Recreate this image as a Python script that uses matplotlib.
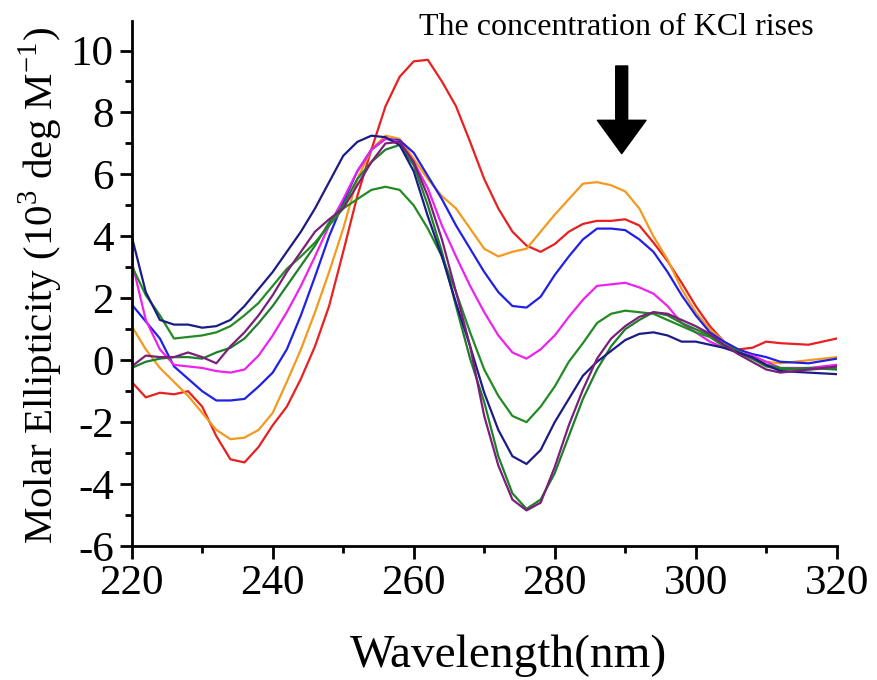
import numpy as np
import matplotlib
matplotlib.use("Agg")
import matplotlib.pyplot as plt
from matplotlib.ticker import MultipleLocator

plt.rcParams['font.family'] = ['Liberation Serif', 'DejaVu Serif']
plt.rcParams['mathtext.fontset'] = 'custom'
plt.rcParams['mathtext.rm'] = 'Liberation Serif'
plt.rcParams['axes.unicode_minus'] = False

wl = [220, 222, 224, 226, 228, 230, 232, 234, 236, 238, 240, 242, 244, 246, 248,
      250, 252, 254, 256, 258, 260, 262, 264, 266, 268, 270, 272, 274, 276, 278,
      280, 282, 284, 286, 288, 290, 292, 294, 296, 298, 300, 302, 304, 306, 308,
      310, 312, 316, 320]

red = [-0.7, -1.2, -1.05, -1.1, -1.0, -1.5, -2.45, -3.2, -3.3, -2.8, -2.1, -1.5, -0.6, 0.45, 1.75,
       3.5, 5.3, 6.8, 8.2, 9.15, 9.65, 9.7, 9.0, 8.2, 7.05, 5.85, 4.9, 4.15, 3.7, 3.5,
       3.75, 4.15, 4.4, 4.5, 4.5, 4.55, 4.35, 3.8, 3.2, 2.5, 1.75, 1.1, 0.6, 0.35, 0.4,
       0.6, 0.55, 0.5, 0.7]
orange = [1.1, 0.35, -0.25, -0.7, -1.15, -1.7, -2.25, -2.55, -2.5, -2.25, -1.7, -0.7, 0.35, 1.55, 2.85,
          4.25, 5.85, 6.8, 7.25, 7.15, 6.5, 5.85, 5.3, 4.9, 4.25, 3.6, 3.35, 3.5, 3.6, 4.15,
          4.7, 5.2, 5.7, 5.75, 5.65, 5.45, 4.9, 4.0, 3.25, 2.3, 1.55, 1.0, 0.6, 0.25, 0.05,
          -0.05, -0.1, 0.0, 0.1]
blue = [1.8, 1.25, 0.7, -0.2, -0.6, -1.0, -1.3, -1.3, -1.25, -0.85, -0.4, 0.35, 1.45, 2.7, 4.0,
        5.1, 6.1, 6.8, 7.15, 7.1, 6.7, 5.95, 5.2, 4.35, 3.6, 2.85, 2.2, 1.75, 1.7, 2.05,
        2.75, 3.35, 3.9, 4.25, 4.25, 4.2, 3.9, 3.5, 2.85, 2.1, 1.45, 0.9, 0.6, 0.35, 0.2,
        0.1, -0.05, -0.1, 0.05]
magenta = [3.2, 1.3, 0.35, -0.15, -0.2, -0.25, -0.35, -0.4, -0.3, 0.15, 0.8, 1.55, 2.4, 3.35, 4.35,
           5.2, 6.1, 6.8, 7.15, 7.05, 6.4, 5.55, 4.35, 3.35, 2.4, 1.55, 0.8, 0.25, 0.05, 0.35,
           0.8, 1.4, 1.95, 2.4, 2.45, 2.5, 2.35, 2.15, 1.75, 1.2, 0.9, 0.6, 0.4, 0.25, 0.15,
           -0.05, -0.25, -0.25, -0.15]
green = [3.05, 2.1, 1.45, 0.7, 0.75, 0.8, 0.9, 1.1, 1.45, 1.85, 2.4, 2.95, 3.35, 3.8, 4.35,
         4.9, 5.2, 5.5, 5.6, 5.5, 5.0, 4.25, 3.35, 2.2, 0.9, -0.3, -1.15, -1.8, -2.0, -1.5,
         -0.85, -0.05, 0.55, 1.2, 1.5, 1.6, 1.55, 1.5, 1.3, 1.1, 0.9, 0.75, 0.45, 0.25, 0.05,
         -0.15, -0.25, -0.3, -0.25]
green_dark = [-0.25, -0.05, 0.05, 0.1, 0.1, 0.05, 0.25, 0.4, 0.7, 1.2, 1.75, 2.4, 3.05, 3.7, 4.45,
              5.0, 5.85, 6.4, 6.8, 6.95, 6.3, 5.0, 3.5, 1.75, 0.05, -1.35, -3.1, -4.3, -4.8, -4.5,
              -3.65, -2.45, -1.25, -0.3, 0.45, 1.0, 1.3, 1.55, 1.45, 1.2, 1.0, 0.8, 0.5, 0.3, 0.05,
              -0.2, -0.3, -0.25, -0.3]
navy = [4.0, 2.2, 1.3, 1.15, 1.15, 1.05, 1.1, 1.3, 1.75, 2.3, 2.85, 3.5, 4.15, 4.9, 5.75,
        6.6, 7.05, 7.25, 7.2, 6.95, 6.1, 4.65, 3.35, 1.85, 0.45, -1.05, -2.25, -3.1, -3.35, -2.9,
        -2.0, -1.25, -0.5, -0.05, 0.3, 0.65, 0.85, 0.9, 0.8, 0.6, 0.6, 0.5, 0.4, 0.25, 0.1,
        -0.15, -0.35, -0.4, -0.45]
purple = [-0.2, 0.15, 0.1, 0.1, 0.25, 0.1, -0.1, 0.45, 0.9, 1.45, 2.1, 2.85, 3.5, 4.15, 4.55,
          4.9, 5.65, 6.4, 7.0, 7.05, 6.4, 5.3, 3.9, 2.2, 0.45, -1.8, -3.4, -4.5, -4.85, -4.6,
          -3.45, -2.1, -0.95, 0.05, 0.7, 1.1, 1.4, 1.55, 1.5, 1.3, 1.1, 0.85, 0.5, 0.2, -0.05,
          -0.3, -0.4, -0.3, -0.2]

series = [(red, '#e82020'), (orange, '#f39a1e'), (blue, '#2020e6'), (magenta, '#ee22ee'),
          (green, '#238b23'), (green_dark, '#1f7f2a'), (navy, '#1c1c85'), (purple, '#7b1f7b')]

fig = plt.figure(figsize=(8.78, 6.8), dpi=100)
ax = fig.add_axes([0.15, 0.197, 0.803, 0.772])

for vals, col in series:
    ax.plot(wl, vals, color=col, lw=1.6)

ax.set_xlim(220, 320)
ax.set_ylim(-6, 10.95)
ax.xaxis.set_major_locator(MultipleLocator(20))
ax.xaxis.set_minor_locator(MultipleLocator(10))
ax.yaxis.set_major_locator(MultipleLocator(2))
ax.yaxis.set_minor_locator(MultipleLocator(1))
ax.spines['top'].set_visible(False)
ax.spines['right'].set_visible(False)
for s in ('left', 'bottom'):
    ax.spines[s].set_linewidth(2)
ax.tick_params(which='major', direction='out', length=9, width=2, labelsize=31, pad=4)
ax.tick_params(which='minor', direction='out', length=5, width=2)

ax.set_xlabel('Wavelength(nm)', fontsize=34)
ax.xaxis.set_label_coords(0.534, -0.168)
ax.set_ylabel(r'Molar Ellipticity (10$^{\mathrm{3}}$ deg M$^{\mathrm{-1}}$)', fontsize=29.5)
ax.yaxis.set_label_coords(-0.094, 0.497)

ax.text(288.8, 10.75, 'The concentration of KCl rises', fontsize=23,
        ha='center', va='center', clip_on=False)
ax.annotate('', xy=(289.5, 6.67), xytext=(289.5, 9.5),
            arrowprops=dict(arrowstyle='simple,head_length=1.2,head_width=1.75,tail_width=0.43',
                            color='black', mutation_scale=20, shrinkA=0, shrinkB=0))

fig.savefig('out.png', dpi=100)
